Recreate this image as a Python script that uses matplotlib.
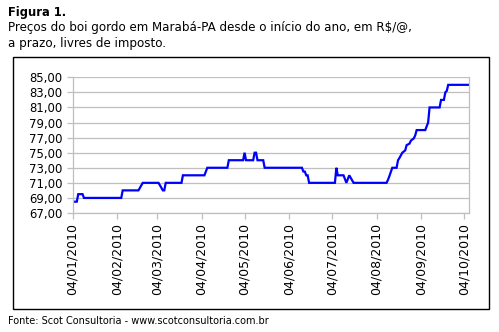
import matplotlib
matplotlib.use("Agg")
import matplotlib.pyplot as plt
import matplotlib.dates as mdates
from matplotlib.patches import Rectangle
import pandas as pd

# Preço do boi gordo em Marabá-PA (R$/@), pontos de mudança da série diária
datas = [
    "2010-01-04", "2010-01-07", "2010-01-08", "2010-01-11", "2010-01-12",
    "2010-02-07", "2010-02-08", "2010-02-19", "2010-02-22",
    "2010-03-05", "2010-03-08", "2010-03-09", "2010-03-10",
    "2010-03-21", "2010-03-22", "2010-04-06", "2010-04-08",
    "2010-04-22", "2010-04-23", "2010-05-03", "2010-05-04", "2010-05-05",
    "2010-05-10", "2010-05-11", "2010-05-12", "2010-05-13",
    "2010-05-17", "2010-05-18", "2010-06-13", "2010-06-14", "2010-06-15",
    "2010-06-16", "2010-06-17", "2010-06-18",
    "2010-07-06", "2010-07-07", "2010-07-08", "2010-07-12", "2010-07-14",
    "2010-07-16", "2010-07-19",
    "2010-08-11", "2010-08-12", "2010-08-13", "2010-08-15", "2010-08-18",
    "2010-08-19", "2010-08-20", "2010-08-22", "2010-08-24", "2010-08-25",
    "2010-08-27", "2010-08-28", "2010-08-30", "2010-08-31", "2010-09-01",
    "2010-09-07", "2010-09-08", "2010-09-09", "2010-09-10",
    "2010-09-17", "2010-09-18", "2010-09-20", "2010-09-21", "2010-09-22",
    "2010-09-23", "2010-10-07",
]
precos = [
    68.5, 68.5, 69.5, 69.5, 69.0,
    69.0, 70.0, 70.0, 71.0,
    71.0, 70.0, 70.0, 71.0,
    71.0, 72.0, 72.0, 73.0,
    73.0, 74.0, 74.0, 75.0, 74.0,
    74.0, 75.0, 75.0, 74.0,
    74.0, 73.0, 73.0, 72.5, 72.5,
    72.0, 72.0, 71.0,
    71.0, 73.0, 72.0, 72.0, 71.0,
    72.0, 71.0,
    71.0, 71.4, 71.9, 73.0, 73.0,
    74.0, 74.3, 75.0, 75.3, 76.0,
    76.2, 76.6, 76.9, 77.3, 78.0,
    78.0, 78.5, 79.0, 81.0,
    81.0, 82.0, 82.0, 83.0, 83.2,
    84.0, 84.0,
]
ticks_x = ["2010-01-04", "2010-02-04", "2010-03-04", "2010-04-04", "2010-05-04",
           "2010-06-04", "2010-07-04", "2010-08-04", "2010-09-04", "2010-10-04"]
ticks_y = [67, 69, 71, 73, 75, 77, 79, 81, 83, 85]

plt.rcParams["font.family"] = "DejaVu Sans"

W, H = 499, 332
fig = plt.figure(figsize=(W / 100, H / 100), dpi=100)

# moldura em volta do gráfico
fig.patches.append(Rectangle((13 / W, 1 - 309 / H), 476 / W, 252 / H,
                             transform=fig.transFigure, fill=False,
                             edgecolor="black", linewidth=1.0))

fig.text(8 / W, 1 - 6 / H, "Figura 1.", fontsize=8.3, fontweight="bold",
         va="top", ha="left")
fig.text(8 / W, 1 - 21.5 / H,
         "Preços do boi gordo em Marabá-PA desde o início do ano, em R$/@,\na prazo, livres de imposto.",
         fontsize=8.55, va="top", ha="left", linespacing=1.28)
fig.text(8 / W, 1 - 321 / H, "Fonte: Scot Consultoria - www.scotconsultoria.com.br",
         fontsize=7, va="center", ha="left")

ax = fig.add_axes([72.5 / W, 1 - 213 / H, (469 - 72.5) / W, (213 - 77.3) / H])
x = pd.to_datetime(datas)
ax.plot(x, precos, color="#0000FF", linewidth=1.6, solid_joinstyle="miter")

ax.set_ylim(67, 85)
ax.set_xlim(pd.Timestamp("2010-01-04"), pd.Timestamp("2010-10-07 12:00"))
ax.set_yticks(ticks_y)
ax.set_yticklabels([f"{v:.2f}".replace(".", ",") for v in ticks_y])
ax.set_xticks(pd.to_datetime(ticks_x))
ax.xaxis.set_major_formatter(mdates.DateFormatter("%d/%m/%Y"))
plt.setp(ax.get_xticklabels(), rotation=90)

ax.grid(axis="y", color="#BFBFBF", linewidth=0.9)
ax.set_axisbelow(True)
for s in ["left", "bottom", "right", "top"]:
    ax.spines[s].set_color("#BFBFBF")
    ax.spines[s].set_linewidth(0.9)
ax.spines["top"].set_visible(False)
ax.tick_params(axis="both", colors="#BFBFBF", labelcolor="black",
               length=4, width=0.9)
ax.tick_params(axis="y", pad=3, labelsize=8.4)
ax.tick_params(axis="x", pad=3, labelsize=9)

fig.savefig("out.png", dpi=100)
